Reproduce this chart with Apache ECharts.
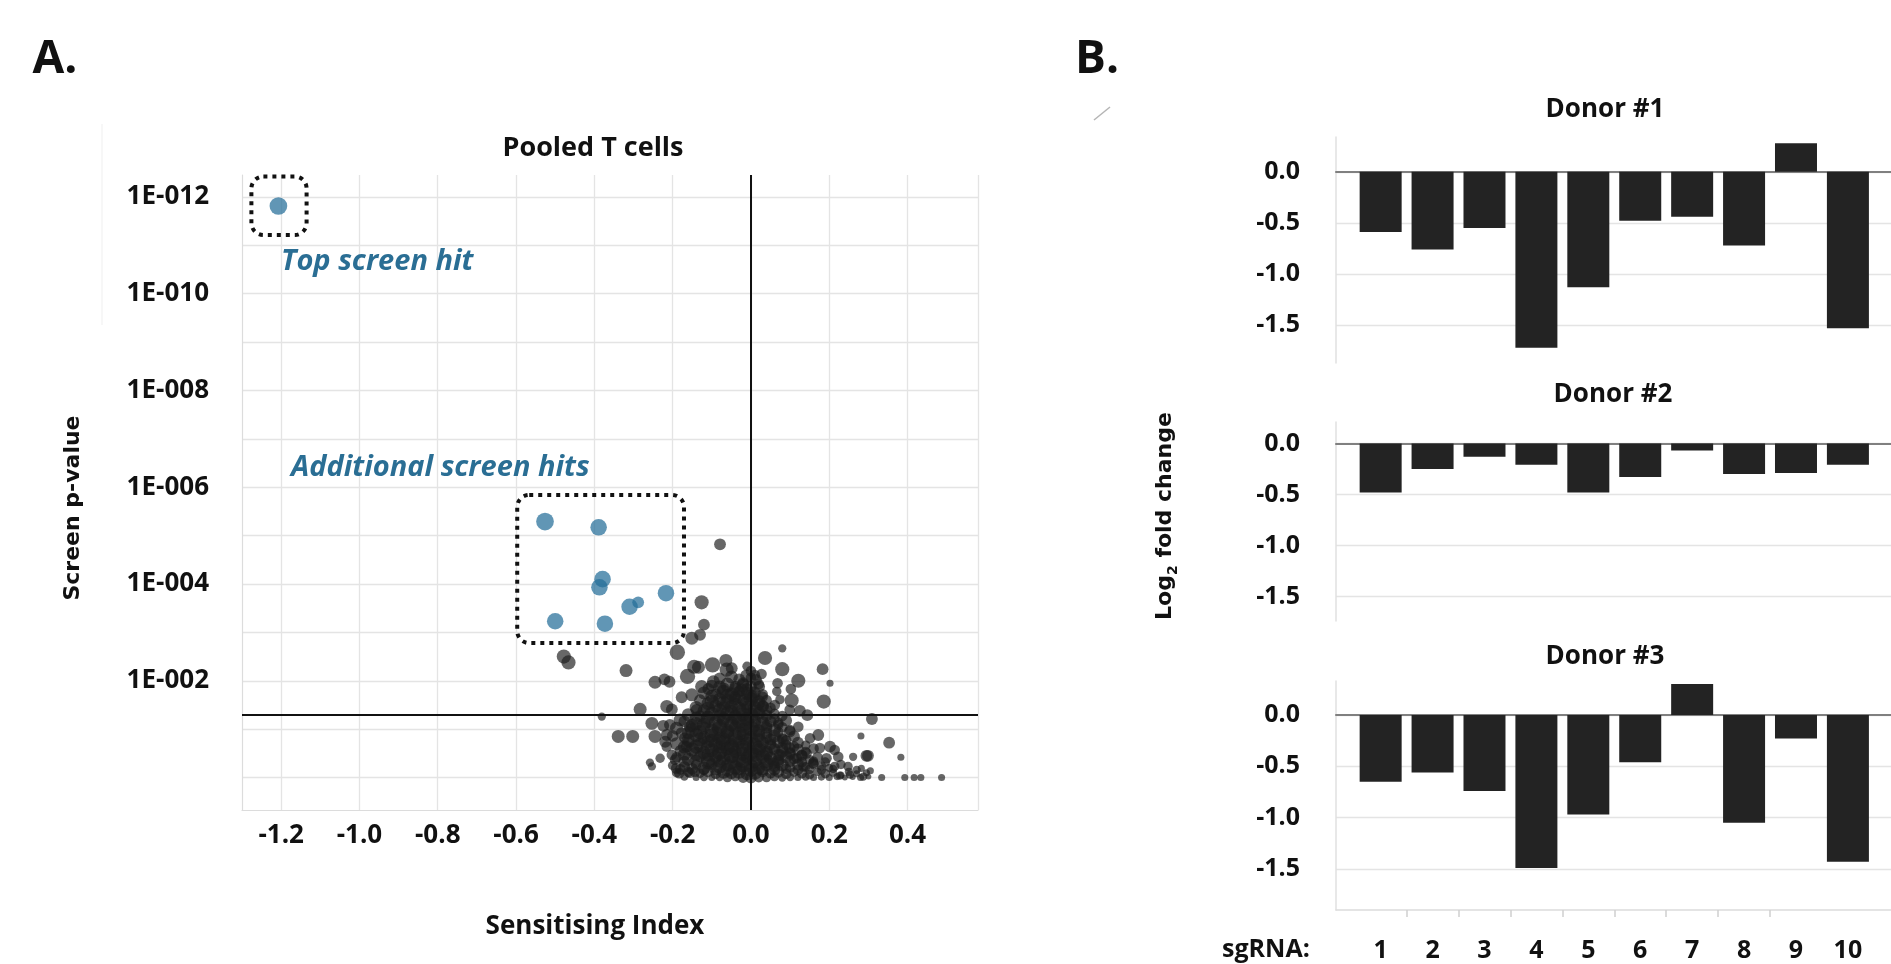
<!DOCTYPE html>
<html><head><meta charset="utf-8">
<script src="https://cdn.jsdelivr.net/npm/echarts@6/dist/echarts.min.js"></script>
<style>html,body{margin:0;padding:0;background:#fff;}#c{width:1891px;height:964px;}</style>
</head><body><div id="c"></div>
<script>
// ---------------- DATA ----------------
const xTickValues = [-1.2, -1.0, -0.8, -0.6, -0.4, -0.2, 0.0, 0.2, 0.4];
const yLabelLogs = [-12, -10, -8, -6, -4, -2];
const yGridLogs = [-12, -11, -10, -9, -8, -7, -6, -5, -4, -3, -2, -1, 0];
const pThreshold = 0.05;
// [sensitising index, log10(p), marker size]
const blueHits = [
  [-1.207, -11.81, 15],
  [-0.526, -5.29, 15], [-0.389, -5.17, 14], [-0.379, -4.10, 14], [-0.387, -3.93, 14],
  [-0.310, -3.53, 14], [-0.288, -3.62, 10], [-0.217, -3.81, 14], [-0.500, -3.23, 14], [-0.373, -3.18, 14]
];
const grayGenes = [
  [-0.079,-4.82,10],[-0.126,-3.62,12],[-0.120,-3.16,10],[-0.130,-2.95,10],[-0.151,-2.88,11],
  [-0.478,-2.50,12],[-0.466,-2.38,12],[-0.319,-2.21,11],[-0.188,-2.59,13],
  [-0.245,-1.97,11],[-0.221,-2.03,10],[-0.208,-1.98,10],[-0.162,-2.09,13],[-0.145,-2.29,12],[-0.134,-2.28,11],
  [-0.098,-2.33,13],[-0.064,-2.42,11],[-0.062,-2.23,12],[-0.126,-1.88,11],[-0.109,-1.83,10],[-0.096,-1.98,11],
  [-0.177,-1.66,10],[-0.151,-1.71,11],[-0.283,-1.41,11],[-0.381,-1.26,7],[-0.215,-1.47,11],[-0.202,-1.41,10],
  [-0.181,-1.19,11],[-0.253,-1.12,11],[-0.224,-1.07,10],[-0.207,-1.09,10],[-0.339,-0.85,11],[-0.302,-0.85,11],
  [-0.245,-0.85,11],[-0.215,-0.88,10],[-0.219,-0.74,10],[-0.215,-0.64,9],[-0.258,-0.31,7],[-0.253,-0.23,7],
  [-0.232,-0.40,8],[-0.202,-0.47,9],[-0.194,-0.37,9],[-0.191,-0.19,9],[-0.183,-0.09,9],[-0.156,-0.10,9],
  [-0.143,-0.12,9],[-0.177,-0.92,10],[-0.164,-0.64,10],[-0.156,-1.05,10],[-0.139,-1.40,10],
  [0.080,-2.67,7],[0.036,-2.47,12],[0.080,-2.24,12],[0.183,-2.24,10],[0.121,-2.00,12],[0.202,-1.95,6],
  [0.068,-1.95,9],[0.102,-1.83,9],[0.066,-1.78,8],[0.074,-1.61,8],[0.104,-1.59,12],[0.186,-1.57,12],
  [0.061,-1.50,9],[0.031,-1.47,10],[-0.049,-2.26,10],[-0.011,-2.10,11],[-0.020,-1.95,10],[0.027,-2.14,9],
  [0.013,-2.02,10],[0.021,-1.88,10],[-0.024,-1.81,11],[-0.041,-1.67,10],[0.006,-1.67,11],[0.144,-1.29,10],
  [0.125,-1.38,10],[0.099,-1.40,9],[0.121,-1.05,9],[0.172,-0.88,10],[0.151,-0.81,9],[0.099,-0.95,10],
  [0.082,-0.78,10],[0.281,-0.86,6],[0.202,-0.64,10],[0.176,-0.61,9],[0.214,-0.57,9],[0.295,-0.45,10],
  [0.261,-0.43,7],[0.223,-0.43,9],[0.193,-0.40,9],[0.214,-0.23,8],[0.248,-0.23,8],[0.270,-0.16,7],
  [0.295,-0.10,6],[0.253,-0.06,7],[0.227,-0.04,7],[0.134,-0.23,9],[0.159,-0.30,9],[0.117,-0.40,9],
  [0.142,-0.50,9],[0.099,-0.61,10],[0.074,-0.47,10],[0.057,-0.30,10],
  [0.309,-1.21,10],[0.353,-0.72,10],[0.299,-0.45,10],[0.383,-0.42,6],[0.282,-0.19,6],[0.305,-0.14,6],
  [0.287,-0.02,7],[0.334,0,6],[0.393,0,6],[0.417,0,6],[0.434,0,6],[0.487,0,6],
  // dense core
  [-0.17,-0.02,7],[-0.14,0,6],[-0.12,-0.01,7],[-0.10,0,6],[-0.08,-0.01,7],[-0.06,0,8],[-0.04,-0.02,8],[-0.02,0,9],
  [0.00,0,10],[0.02,-0.01,9],[0.04,0,8],[0.06,-0.02,8],[0.08,0,7],[0.10,-0.01,7],[0.12,0,6],[0.14,-0.02,7],
  [0.16,0,6],[0.18,-0.01,6],[0.20,0,6],[0.22,-0.02,6],[0.24,0,5],[0.26,-0.01,5],[0.28,0,6],[0.30,-0.02,5],
  [-0.19,-0.10,8],[-0.16,-0.12,9],[-0.13,-0.09,8],[-0.11,-0.13,10],[-0.09,-0.08,9],[-0.07,-0.11,11],[-0.05,-0.09,10],
  [-0.03,-0.12,12],[-0.01,-0.08,11],[0.01,-0.10,12],[0.03,-0.13,10],[0.05,-0.09,9],[0.07,-0.12,10],[0.09,-0.08,9],
  [0.11,-0.11,8],[0.13,-0.09,9],[0.15,-0.06,8],[0.17,-0.12,7],[0.19,-0.08,8],[0.21,-0.10,7],[0.23,-0.05,6],
  [0.25,-0.12,7],[0.27,-0.08,6],
  [-0.18,-0.17,9],[-0.15,-0.18,10],[-0.12,-0.16,9],[-0.09,-0.18,11],[-0.06,-0.16,12],[-0.03,-0.18,11],[0.00,-0.16,12],
  [0.03,-0.18,11],[0.06,-0.16,10],[0.09,-0.18,9],[0.12,-0.16,9],[0.15,-0.17,8],[0.18,-0.16,8],[0.21,-0.18,7],
  [-0.20,-0.25,8],[-0.17,-0.22,10],[-0.14,-0.27,9],[-0.12,-0.20,11],[-0.10,-0.28,10],[-0.08,-0.23,12],[-0.06,-0.26,11],
  [-0.04,-0.21,12],[-0.02,-0.27,13],[0.00,-0.24,12],[0.02,-0.20,11],[0.04,-0.28,12],[0.06,-0.23,10],[0.08,-0.26,11],
  [0.10,-0.21,9],[0.12,-0.27,10],[0.14,-0.22,8],[0.16,-0.28,9],[0.18,-0.24,8],[0.20,-0.20,7],[0.23,-0.27,8],
  [-0.17,-0.33,10],[-0.14,-0.34,11],[-0.11,-0.32,12],[-0.08,-0.34,11],[-0.05,-0.32,12],[-0.02,-0.34,12],[0.01,-0.32,11],
  [0.04,-0.34,12],[0.07,-0.32,10],[0.10,-0.34,10],[0.13,-0.32,9],[0.16,-0.34,8],[0.19,-0.32,8],
  [-0.19,-0.42,9],[-0.16,-0.38,11],[-0.13,-0.44,10],[-0.11,-0.37,12],[-0.09,-0.43,11],[-0.07,-0.39,12],[-0.05,-0.45,13],
  [-0.03,-0.38,12],[-0.01,-0.42,11],[0.01,-0.37,13],[0.03,-0.44,12],[0.05,-0.40,11],[0.07,-0.36,10],[0.09,-0.43,11],
  [0.11,-0.39,9],[0.13,-0.45,10],[0.15,-0.37,8],[0.17,-0.42,9],
  [-0.17,-0.48,11],[-0.14,-0.49,12],[-0.11,-0.47,11],[-0.08,-0.49,12],[-0.05,-0.47,13],[-0.02,-0.49,12],[0.01,-0.47,12],
  [0.04,-0.49,11],[0.07,-0.47,10],[0.10,-0.49,10],[0.13,-0.47,9],
  [-0.18,-0.55,10],[-0.15,-0.58,12],[-0.12,-0.52,11],[-0.10,-0.57,12],[-0.08,-0.53,13],[-0.06,-0.60,12],[-0.04,-0.54,11],
  [-0.02,-0.58,12],[0.00,-0.52,13],[0.02,-0.57,12],[0.04,-0.53,11],[0.06,-0.59,10],[0.08,-0.55,11],[0.10,-0.52,9],
  [0.12,-0.58,10],[0.14,-0.54,8],[0.16,-0.60,9],
  [-0.17,-0.63,11],[-0.14,-0.64,12],[-0.11,-0.62,12],[-0.08,-0.64,11],[-0.05,-0.62,13],[-0.02,-0.64,12],[0.02,-0.62,12],
  [0.05,-0.64,11],[0.08,-0.62,10],[0.11,-0.64,9],
  [-0.19,-0.70,11],[-0.16,-0.73,10],[-0.13,-0.68,12],[-0.11,-0.74,11],[-0.09,-0.69,12],[-0.07,-0.72,13],[-0.05,-0.67,12],
  [-0.03,-0.73,11],[-0.01,-0.70,12],[0.01,-0.66,13],[0.03,-0.72,11],[0.05,-0.69,10],[0.07,-0.74,11],[0.09,-0.68,9],
  [0.12,-0.72,10],[0.14,-0.67,8],
  [-0.16,-0.78,11],[-0.13,-0.79,12],[-0.10,-0.77,11],[-0.07,-0.79,12],[-0.04,-0.77,12],[-0.01,-0.79,11],[0.02,-0.77,12],
  [0.05,-0.79,10],[0.09,-0.77,9],
  [-0.20,-0.86,10],[-0.17,-0.82,9],[-0.14,-0.88,12],[-0.12,-0.83,11],[-0.10,-0.87,12],[-0.08,-0.81,11],[-0.06,-0.86,12],
  [-0.04,-0.84,13],[-0.02,-0.88,11],[0.00,-0.82,12],[0.02,-0.87,11],[0.04,-0.83,10],[0.06,-0.86,11],[0.08,-0.81,9],
  [0.11,-0.85,10],
  [-0.16,-0.93,11],[-0.13,-0.94,12],[-0.09,-0.92,12],[-0.06,-0.94,11],[-0.03,-0.92,12],[0.01,-0.94,12],[0.04,-0.92,10],
  [0.07,-0.94,9],
  [-0.19,-1.02,11],[-0.15,-0.98,12],[-0.12,-1.03,11],[-0.10,-0.97,12],[-0.08,-1.01,13],[-0.06,-0.96,12],[-0.04,-1.04,11],
  [-0.02,-0.99,12],[0.00,-1.02,13],[0.02,-0.97,11],[0.04,-1.03,10],[0.06,-0.99,11],[0.08,-1.04,9],[0.10,-0.98,9],
  [-0.15,-1.08,11],[-0.12,-1.09,12],[-0.08,-1.07,12],[-0.05,-1.09,11],[-0.02,-1.07,12],[0.01,-1.09,11],[0.04,-1.07,10],
  [0.07,-1.09,9],
  [-0.17,-1.16,10],[-0.14,-1.12,11],[-0.11,-1.17,12],[-0.09,-1.13,12],[-0.07,-1.18,11],[-0.05,-1.12,12],[-0.03,-1.16,13],
  [-0.01,-1.13,12],[0.01,-1.17,11],[0.03,-1.12,12],[0.05,-1.16,10],[0.07,-1.13,9],[0.09,-1.18,10],
  [-0.14,-1.23,11],[-0.11,-1.24,12],[-0.07,-1.22,11],[-0.04,-1.24,12],[-0.01,-1.22,12],[0.03,-1.24,10],[0.06,-1.22,9],
  [-0.16,-1.30,11],[-0.13,-1.27,10],[-0.10,-1.32,12],[-0.08,-1.28,11],[-0.06,-1.33,12],[-0.04,-1.27,11],[-0.02,-1.31,12],
  [0.00,-1.29,13],[0.02,-1.33,11],[0.04,-1.28,10],[0.06,-1.32,9],[0.08,-1.27,9],
  [-0.12,-1.38,11],[-0.08,-1.39,12],[-0.05,-1.37,11],[-0.02,-1.39,12],[0.01,-1.37,11],[0.04,-1.39,10],
  [-0.14,-1.45,11],[-0.11,-1.42,12],[-0.09,-1.48,11],[-0.07,-1.43,12],[-0.05,-1.47,11],[-0.03,-1.42,12],[-0.01,-1.46,11],
  [0.01,-1.43,12],[0.03,-1.48,10],[0.05,-1.44,9],
  [-0.11,-1.53,11],[-0.07,-1.54,12],[-0.04,-1.52,11],[-0.01,-1.54,12],[0.02,-1.52,10],
  [-0.13,-1.60,10],[-0.10,-1.57,12],[-0.08,-1.62,11],[-0.06,-1.58,12],[-0.04,-1.63,11],[-0.02,-1.59,10],[0.00,-1.62,12],
  [0.02,-1.57,11],[0.04,-1.60,9],
  [-0.10,-1.68,11],[-0.06,-1.69,12],[-0.03,-1.67,11],[0.00,-1.69,11],[0.03,-1.67,9],
  [-0.12,-1.75,11],[-0.09,-1.72,10],[-0.07,-1.77,12],[-0.05,-1.73,11],[-0.03,-1.78,10],[-0.01,-1.74,11],[0.01,-1.76,10],
  [0.03,-1.72,9],
  [-0.07,-1.83,11],[-0.04,-1.84,10],[-0.01,-1.82,11],
  [-0.10,-1.90,10],[-0.08,-1.87,11],[-0.06,-1.92,12],[-0.04,-1.88,10],[-0.02,-1.91,11],[0.00,-1.88,10],[0.02,-1.93,9],
  [-0.08,-2.05,10],[-0.05,-2.08,11],[-0.03,-2.03,10],[0.00,-2.06,9],[0.01,-2.12,9],[0.00,-2.20,9],[-0.01,-2.30,8]
];
const sgRNA = ['1','2','3','4','5','6','7','8','9','10'];
const donor1 = [-0.59, -0.76, -0.55, -1.72, -1.13, -0.48, -0.44, -0.72, 0.28, -1.53];
const donor2 = [-0.48, -0.25, -0.13, -0.21, -0.48, -0.33, -0.07, -0.30, -0.29, -0.21];
const donor3 = [-0.65, -0.56, -0.74, -1.49, -0.97, -0.46, 0.30, -1.05, -0.23, -1.43];
const donorTicks = [0.0, -0.5, -1.0, -1.5];
const sgTickBounds = [1.5, 2.5, 3.5, 4.5, 5.5, 6.5, 7.5, 8.5];

// ---------------- CHART ----------------
const FONT = '"Open Sans", "Liberation Sans", sans-serif';
const chart = echarts.init(document.getElementById('c'), null, {renderer: 'canvas'});
const lightLine = {color: '#dcdcdc', width: 1.2};
const gridLine = {color: '#e4e4e4', width: 1.3};
const lbl = (size) => ({fontFamily: FONT, fontWeight: 'bold', fontSize: size, color: '#111'});
const SIZE_SCALE = 1.18;

function donorY(idx, min, max) {
  return {
    gridIndex: idx, type: 'value', min: min, max: max,
    axisLine: {show: true, onZero: false, lineStyle: {color: '#e0e0e0', width: 1.5}},
    axisTick: {show: false, customValues: donorTicks},
    splitLine: {show: true, lineStyle: gridLine},
    axisLabel: Object.assign({customValues: donorTicks, margin: 36, formatter: v => (Math.abs(v) < 1e-9 ? 0 : v).toFixed(1)}, lbl(25))
  };
}
function donorX(idx) {
  return {
    gridIndex: idx, type: 'value', min: 0.14, max: 10.83, position: 'bottom',
    axisLine: {show: true, onZero: true, lineStyle: {color: '#808080', width: 2}},
    axisTick: {show: false}, axisLabel: {show: false}, splitLine: {show: false}
  };
}
function bars(data, idx) {
  return {
    type: 'bar', xAxisIndex: idx, yAxisIndex: idx, barWidth: 42,
    data: data.map((v, i) => [i + 1, v]),
    itemStyle: {color: '#232323'}, silent: true
  };
}

const option = {
  animation: false,
  backgroundColor: '#fff',
  grid: [
    {left: 242, top: 175, width: 736, height: 635},
    {left: 1336, top: 137, width: 555, height: 226},
    {left: 1336, top: 422, width: 555, height: 199},
    {left: 1336, top: 681, width: 555, height: 229}
  ],
  xAxis: [
    {
      gridIndex: 0, type: 'value', min: -1.30, max: 0.58, position: 'bottom',
      axisLine: {show: true, onZero: false, lineStyle: lightLine},
      axisTick: {show: false, customValues: xTickValues.concat([0.58])},
      splitLine: {show: true, lineStyle: gridLine},
      axisLabel: Object.assign({customValues: xTickValues, margin: 13, formatter: v => v.toFixed(1)}, lbl(26))
    },
    donorX(1), donorX(2), donorX(3),
    {
      gridIndex: 3, type: 'value', min: 0.14, max: 10.83, position: 'bottom',
      axisLine: {show: true, onZero: false, lineStyle: {color: '#dcdcdc', width: 1.5}},
      axisTick: {show: true, inside: false, length: 7, customValues: sgTickBounds, lineStyle: {color: '#cfcfcf', width: 1.5}},
      splitLine: {show: false},
      axisLabel: Object.assign({customValues: sgRNA.map((s, i) => i + 1), margin: 28, formatter: v => sgRNA[Math.round(v) - 1]}, lbl(25))
    }
  ],
  yAxis: [
    {
      gridIndex: 0, type: 'value', inverse: true, min: -12.45, max: 0.67,
      axisLine: {show: true, onZero: false, lineStyle: lightLine},
      axisTick: {show: false, customValues: yGridLogs},
      splitLine: {show: true, lineStyle: gridLine},
      axisLabel: Object.assign({customValues: yLabelLogs, margin: 33,
        formatter: v => '1E-' + String(Math.round(-v)).padStart(3, '0')}, lbl(26))
    },
    donorY(1, -1.87, 0.34),
    donorY(2, -1.74, 0.21),
    donorY(3, -1.90, 0.33)
  ],
  series: [
    {
      type: 'scatter', xAxisIndex: 0, yAxisIndex: 0, silent: true,
      data: grayGenes,
      symbolSize: d => d[2] * SIZE_SCALE,
      itemStyle: {color: 'rgba(28,28,28,0.84)'},
      markLine: {
        silent: true, symbol: ['none', 'none'], label: {show: false},
        lineStyle: {color: '#111', width: 2, type: 'solid'},
        data: [{xAxis: 0}, {yAxis: Math.log10(pThreshold)}]
      }
    },
    {
      type: 'scatter', xAxisIndex: 0, yAxisIndex: 0, silent: true,
      data: blueHits,
      symbolSize: d => d[2] * SIZE_SCALE,
      itemStyle: {color: 'rgba(36,110,152,0.9)'}
    },
    bars(donor1, 1), bars(donor2, 2), bars(donor3, 3)
  ]
};
chart.setOption(option);

// ---------------- ANNOTATIONS ----------------
function boxFromData(x0, x1, y0, y1) {
  const a = chart.convertToPixel({gridIndex: 0}, [x0, y0]);
  const b = chart.convertToPixel({gridIndex: 0}, [x1, y1]);
  return {
    type: 'rect', silent: true, z: 10,
    shape: {x: Math.min(a[0], b[0]), y: Math.min(a[1], b[1]), width: Math.abs(b[0] - a[0]), height: Math.abs(b[1] - a[1]), r: 12},
    style: {fill: 'none', stroke: '#111', lineWidth: 4, lineDash: [4, 5], lineCap: 'butt'}
  };
}
function txt(x, y, text, font, opts) {
  return Object.assign({
    type: 'text', x: x, y: y, silent: true, z: 20,
    style: {text: text, font: font, fill: '#111', align: 'center', verticalAlign: 'middle', textAlign: 'center', textVerticalAlign: 'middle'}
  }, opts || {});
}
const BLUE_TXT = '#2a6e94';
const graphics = [
  boxFromData(-1.276, -1.135, -12.42, -11.21),
  boxFromData(-0.597, -0.171, -5.84, -2.78),
  txt(55, 60, 'A.', 'bold 46px ' + FONT),
  txt(1097, 60, 'B.', 'bold 46px ' + FONT),
  txt(593, 148, 'Pooled T cells', 'bold 27px ' + FONT),
  {type: 'text', x: 281, y: 262, silent: true, z: 20,
    style: {text: 'Top screen hit', font: 'italic bold 29px ' + FONT, fill: BLUE_TXT, align: 'left', verticalAlign: 'middle', textAlign: 'left', textVerticalAlign: 'middle'}},
  {type: 'text', x: 291, y: 468, silent: true, z: 20,
    style: {text: 'Additional screen hits', font: 'italic bold 29px ' + FONT, fill: BLUE_TXT, align: 'left', verticalAlign: 'middle', textAlign: 'left', textVerticalAlign: 'middle'}},
  txt(595, 927, 'Sensitising Index', 'bold 26px ' + FONT),
  txt(73, 508, 'Screen p-value', 'bold 22px "DejaVu Sans", sans-serif', {rotation: Math.PI / 2}),
  {type: 'text', x: 1165, y: 516, rotation: Math.PI / 2, silent: true, z: 20,
    style: {
      text: '{a|Log}{s|2}{a| fold change}', align: 'center', verticalAlign: 'middle', textAlign: 'center', textVerticalAlign: 'middle',
      rich: {
        a: {fontFamily: '"DejaVu Sans", sans-serif', fontWeight: 'bold', fontSize: 22, fill: '#111', lineHeight: 30, verticalAlign: 'middle'},
        s: {fontFamily: '"DejaVu Sans", sans-serif', fontWeight: 'bold', fontSize: 14, fill: '#111', lineHeight: 30, verticalAlign: 'bottom'}
      }
    }},
  txt(1605, 110, 'Donor #1', 'bold 26px ' + FONT),
  txt(1613, 395, 'Donor #2', 'bold 26px ' + FONT),
  txt(1605, 657, 'Donor #3', 'bold 26px ' + FONT),
  {type: 'text', x: 1222, y: 950, silent: true, z: 20,
    style: {text: 'sgRNA:', font: 'bold 25px ' + FONT, fill: '#111', align: 'left', verticalAlign: 'middle', textAlign: 'left', textVerticalAlign: 'middle'}},
  {type: 'line', silent: true, shape: {x1: 1094, y1: 120, x2: 1110, y2: 107}, style: {stroke: '#b5b5b5', lineWidth: 1.5}},
  {type: 'line', silent: true, shape: {x1: 102, y1: 124, x2: 102, y2: 325}, style: {stroke: '#efefef', lineWidth: 1}}
];
chart.setOption({graphic: graphics});
</script>
</body></html>
